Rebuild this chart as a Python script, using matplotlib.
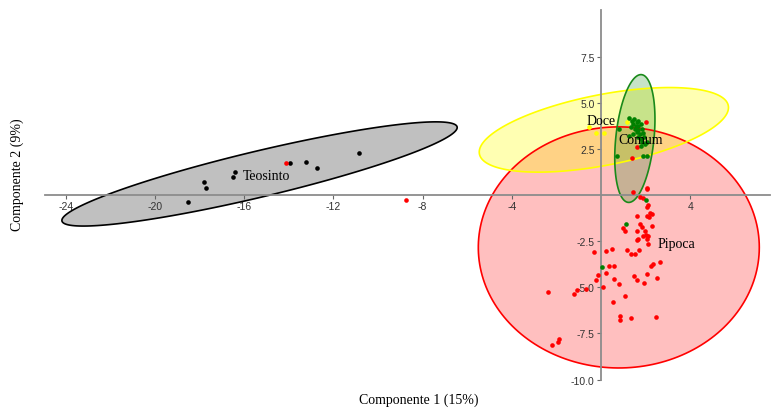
import numpy as np
import matplotlib.pyplot as plt
from matplotlib.patches import Polygon

plt.rcParams['font.family'] = ['Liberation Serif', 'DejaVu Serif']

# pontos por grupo (componente 1, componente 2)
teosinto_x = [-18.52, -17.79, -17.71, -16.50, -16.40, -13.93, -13.23, -12.74, -10.85]
teosinto_y = [-0.38, 0.70, 0.38, 0.99, 1.23, 1.72, 1.77, 1.45, 2.27]

doce_x = [-0.54, -0.22, 0.13, 1.15]
doce_y = [3.67, 3.36, 3.36, 3.94]

comum_x = [1.26, 1.38, 1.49, 1.60, 1.67, 1.45, 1.56, 1.67, 1.79, 1.35, 1.52, 1.67,
           1.82, 1.60, 1.75, 1.90, 1.45, 1.67, 1.79, 1.94, 1.85, 1.97, 2.05, 1.79,
           0.70, 1.90, 2.05, 1.26, 0.80, 2.02, 1.12, 0.06]
comum_y = [4.15, 4.03, 4.12, 3.94, 4.03, 3.85, 3.75, 3.75, 3.85, 3.67, 3.58, 3.54,
           3.58, 3.40, 3.30, 3.36, 3.30, 3.13, 3.03, 3.13, 2.85, 2.76, 2.85, 2.67,
           2.13, 2.13, 2.10, 3.20, 3.60, -0.27, -1.57, -3.92]

pipoca_x = [-14.13, -8.74, 2.00, 1.60, 1.38, 2.05,
            1.45, 1.75, 1.87, 2.05, 2.12, 2.08, 2.20, 2.29, 2.05, 2.17, 1.63,
            0.97, 1.08, 1.75, 1.82, 2.27, 1.60, 1.97, 1.90, 2.02, 2.12, 1.67, 2.05,
            2.12, 1.63, -0.31, 0.21, 0.51, 1.18, 1.35, 1.52, 1.70, 2.65, 2.32, 2.24,
            0.37, 0.60, 0.21, -0.15, -0.22, 0.60, 1.49, 1.63, 2.05, 2.53, 1.94, 0.82,
            0.07, -0.67, -1.06, -1.20, -2.36, 1.08, 0.52, 0.85, 0.85, 1.35, 2.45,
            -2.21, -1.94, -1.87]
pipoca_y = [1.72, -0.27, 3.97, 2.58, 1.99, 0.36,
            0.15, -0.09, -0.16, 0.33, -0.52, -0.67, -0.99, -1.03, -1.14, -1.21, -1.12,
            -1.80, -1.93, -1.57, -1.75, -1.66, -1.93, -1.93, -2.20, -2.15, -2.20, -2.38, -2.38,
            -2.65, -2.42, -3.11, -3.05, -2.93, -2.96, -3.20, -3.20, -2.96, -3.61, -3.74, -3.83,
            -3.83, -3.83, -4.24, -4.33, -4.59, -4.55, -4.37, -4.59, -4.28, -4.50, -4.77, -4.82,
            -4.97, -5.09, -5.15, -5.36, -5.27, -5.45, -5.78, -6.57, -6.75, -6.66, -6.59,
            -8.13, -7.98, -7.80]

# elipses: centro e dois semi-eixos (vetores em unidades dos dados)
elip_centros = {"Teosinto": (-15.31, 1.14), "Pipoca": (0.80, -2.84),
                "Doce": (0.13, 3.53), "Comum": (1.52, 3.06)}
elip_eixo_u = {"Teosinto": (8.86, 2.55), "Pipoca": (6.30, 0.0),
               "Doce": (5.58, 1.31), "Comum": (0.30, 3.46)}
elip_eixo_v = {"Teosinto": (-0.24, 1.21), "Pipoca": (0.0, 6.53),
               "Doce": (-0.30, 1.88), "Comum": (0.85, -0.108)}

xticks = [-24, -20, -16, -12, -8, -4, 4]
yticks = [-10.0, -7.5, -5.0, -2.5, 2.5, 5.0, 7.5]


def elipse(ax, nome, face, borda, alpha):
    t = np.linspace(0, 2 * np.pi, 200)
    cx, cy = elip_centros[nome]
    ux, uy = elip_eixo_u[nome]
    vx, vy = elip_eixo_v[nome]
    xs = cx + ux * np.cos(t) + vx * np.sin(t)
    ys = cy + uy * np.cos(t) + vy * np.sin(t)
    pts = np.column_stack([xs, ys])
    ax.add_patch(Polygon(pts, closed=True, facecolor=face, alpha=alpha,
                         edgecolor='none', zorder=1))
    ax.add_patch(Polygon(pts, closed=True, facecolor='none',
                         edgecolor=borda, linewidth=1.2, zorder=2))


fig = plt.figure(figsize=(7.72, 4.10), dpi=100)
ax = fig.add_axes([45 / 772, 1 - 380.6 / 410, 725 / 772, 369.2 / 410])

elipse(ax, "Teosinto", '#c0c0c0', 'black', 1.0)
elipse(ax, "Pipoca", '#ff0000', '#ff0000', 0.25)
elipse(ax, "Doce", '#ffff00', '#ffff00', 0.3)
elipse(ax, "Comum", '#008000', '#1a8a1a', 0.22)

ax.scatter(teosinto_x, teosinto_y, s=11, color='black', linewidths=0, zorder=3)
ax.scatter(doce_x, doce_y, s=11, color='#ffff00', linewidths=0, zorder=3)
ax.scatter(pipoca_x, pipoca_y, s=11, color='#ff0000', linewidths=0, zorder=3)
ax.scatter(comum_x, comum_y, s=11, color='#008000', linewidths=0, zorder=4)

ax.text(-16.05, 1.05, "Teosinto", fontsize=10, va='center', zorder=5)
ax.text(-0.64, 4.03, "Doce", fontsize=10, va='center', zorder=5)
ax.text(0.78, 3.0, "Comum", fontsize=10, va='center', zorder=5)
ax.text(2.54, -2.65, "Pipoca", fontsize=10, va='center', zorder=5)

ax.set_xlim(-24.93, 7.58)
ax.set_ylim(-10, 10)
for lado in ['top', 'right']:
    ax.spines[lado].set_visible(False)
ax.spines['left'].set_position(('data', 0))
ax.spines['bottom'].set_position(('data', 0))
for lado in ['left', 'bottom']:
    ax.spines[lado].set_color('#8c8c8c')
    ax.spines[lado].set_linewidth(1.3)
    ax.spines[lado].set_zorder(2.5)

ax.set_xticks(xticks)
ax.set_xticklabels([str(v) for v in xticks], family='Liberation Sans')
ax.set_yticks(yticks)
ax.set_yticklabels([f"{v:.1f}" for v in yticks], family='Liberation Sans')
ax.tick_params(colors='#666666', labelcolor='#333333', labelsize=7.5,
               length=3, width=0.8, pad=1.5)
ax.patch.set_visible(False)

fig.text(419 / 772, 1 - 400 / 410, "Componente 1 (15%)", fontsize=10,
         ha='center', va='center')
fig.text(17 / 772, 1 - 175 / 410, "Componente 2 (9%)", fontsize=10,
         ha='center', va='center', rotation=90)

fig.savefig("out.png", dpi=100)
